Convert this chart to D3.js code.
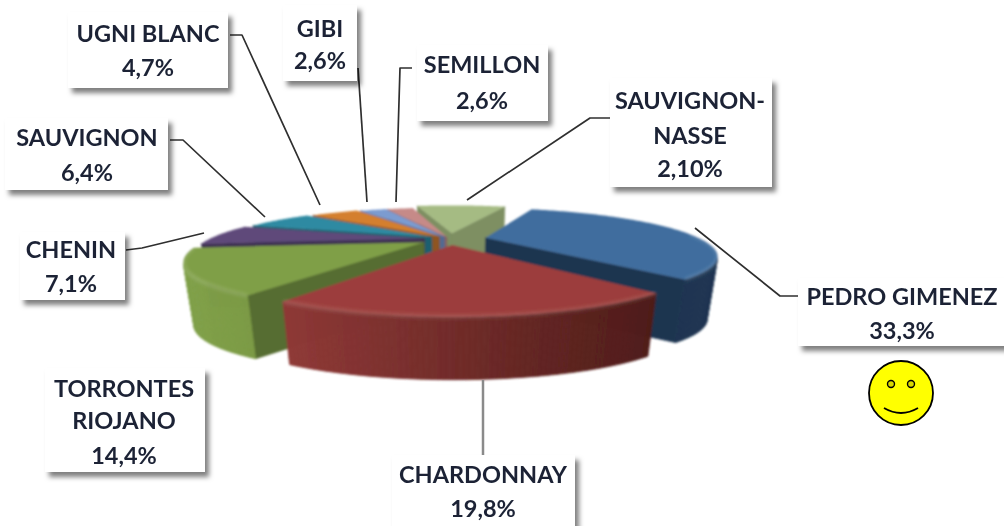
<!DOCTYPE html>
<html><head><meta charset="utf-8">
<script src="https://cdn.jsdelivr.net/npm/d3@7"></script>
<style>html,body{margin:0;padding:0;background:#fff;overflow:hidden}svg{display:block}</style>
</head><body><svg id="c" width="1004" height="526"></svg>
<script>
// ---- data ----
const categories = ["PEDRO GIMENEZ","CHARDONNAY","TORRONTES RIOJANO","CHENIN","SAUVIGNON","UGNI BLANC","GIBI","SEMILLON","SAUVIGNON-NASSE"];
const sliceValues = [33.3,19.8,14.4,7.1,6.4,4.7,2.6,2.6,9.1];
const valueLabels = ["33,3%","19,8%","14,4%","7,1%","6,4%","4,7%","2,6%","2,6%","2,10%"];
// ---- styles ----
const topColors  = ["#3f6d9e","#9c3e3c","#7f9f47","#5e4a7a","#2e8aa2","#d47f2f","#7c9bd0","#c68a88","#a5bb83"];
const wallColors = ["#1c3450","#5a2220","#566d31","#3f3152","#1f5f70","#8f5520","#526a92","#8a5f5e","#7e8f62"];
const rimLeft    = ["#1c3450","#8e3836","#7f9f47","#4a3a60","#25707f","#b06a28","#6680ad","#a87472","#8ea070"];
const rimRight   = ["#1c3450","#4e1c19","#6f8c3c","#3f3152","#1f5f70","#8f5520","#526a92","#8a5f5e","#7e8f62"];
const explode    = [.17,.14,.14,.12,.1,.08,.06,.05,.15];
const drawOrder  = [8,7,6,5,4,0,3,2,1];
// ---- projection ----
const cx=450, cy=239, Rx=215, Ry=41, persp=.35, H=63, taper=.96, startDeg=20;
function project(X,Y,z){
  const s=1/(1-persp*Y);
  const x=cx+Rx*X*s*(z?taper:1);
  const y=cy+Ry*Y*s+(z?H:0);
  return [x,y];
}
const pie=d3.pie().sort(null).value(d=>d)
  .startAngle(startDeg*Math.PI/180).endAngle((startDeg+360)*Math.PI/180);
const arcs=pie(sliceValues);
const svg=d3.select("#c");
const defs=svg.append("defs");
const soft=defs.append("filter").attr("id","soft").attr("x","-5%").attr("y","-5%").attr("width","110%").attr("height","110%");
soft.append("feGaussianBlur").attr("stdDeviation",.9);
const band=defs.append("filter").attr("id","band").attr("x","-5%").attr("y","-20%").attr("width","110%").attr("height","140%");
band.append("feGaussianBlur").attr("stdDeviation",1.6);
const ts=defs.append("filter").attr("id","ts");
ts.append("feGaussianBlur").attr("stdDeviation",.45);
const sh=defs.append("filter").attr("id","sh").attr("x","-15%").attr("y","-15%").attr("width","130%").attr("height","130%");
sh.append("feDropShadow").attr("dx",4).attr("dy",5).attr("stdDeviation",2.8).attr("flood-color","#000").attr("flood-opacity",.5);

const line=d3.line();
// ---- label layout ----
const layout=[
 {lines:["PEDRO GIMENEZ","33,3%"],box:[798,278,230,68],tx:902,ty:[296,330],lead:[[798,296],[780,296]],end:[695,228]},
 {lines:["CHARDONNAY","19,8%"],box:[392,455,183,80],tx:483,ty:[474,508],lead:[[483,455]],end:[483,380],col:"#8a8a8a",w:2.5},
 {lines:["TORRONTES","RIOJANO","14,4%"],box:[45,368,160,104],tx:124,ty:[388,420,455]},
 {lines:["CHENIN","7,1%"],box:[20,232,105,68],tx:71,ty:[249,283],lead:[[126,250],[142,248]],end:[204,233]},
 {lines:["SAUVIGNON","6,4%"],box:[5,118,163,72],tx:87,ty:[137,172],lead:[[170,140],[183,140]],end:[265,217]},
 {lines:["UGNI BLANC","4,7%"],box:[68,12,160,76],tx:148,ty:[33,67],lead:[[230,35],[242,35]],end:[320,205]},
 {lines:["GIBI","2,6%"],box:[283,5,74,76],tx:320,ty:[28,60],lead:[[358,68]],end:[367,202]},
 {lines:["SEMILLON","2,6%"],box:[417,45,131,76],tx:482,ty:[64,100],lead:[[412,68],[400,68]],end:[396,202]},
 {lines:["SAUVIGNON-","NASSE","2,10%"],box:[610,78,162,109],tx:690,ty:[100,135,168],lead:[[610,118],[590,118]],end:[467,200]}
];
// ---- pie ----
const gPie=svg.append("g").attr("filter","url(#soft)");
drawOrder.forEach(i=>{
  const a=arcs[i], mid=(a.startAngle+a.endAngle)/2;
  const ex=explode[i]*Math.sin(mid), ey=-explode[i]*Math.cos(mid);
  const n=Math.max(8,Math.ceil((a.endAngle-a.startAngle)*60));
  const ang=d3.range(n+1).map(j=>a.startAngle+(a.endAngle-a.startAngle)*j/n);
  const world=[[ex,ey],...ang.map(t=>[ex+Math.sin(t),ey-Math.cos(t)])];
  const topPts=world.map(w=>project(w[0],w[1],0));
  const botPts=world.map(w=>project(w[0],w[1],1));
  const g=gPie.append("g");
  const xs=topPts.map(p=>p[0]);
  const rimColor=d3.scaleLinear().domain(d3.extent(xs)).range([rimLeft[i],rimRight[i]]).interpolate(d3.interpolateRgb);
  const N=world.length;
  for(let j=0;j<N;j++){
    const k=(j+1)%N;
    const quad=[topPts[j],topPts[k],botPts[k],botPts[j]];
    if(d3.polygonArea(quad)<=0) continue;
    const isWall=(j===0||k===0);
    const col=isWall?wallColors[i]:rimColor((topPts[j][0]+topPts[k][0])/2);
    g.append("path").attr("d",line(quad)+"Z").attr("fill",col).attr("stroke",col).attr("stroke-width",.8);
  }
  g.append("path").attr("d",line(topPts)+"Z").attr("fill",topColors[i]);
  // soft bevel on the top edge of the rim
  const rimTop=topPts.slice(1);
  const visible=rimTop.filter((p,j)=>Math.cos(ang[j])<.1);
  if(visible.length>2&&i<3){
    g.append("path").attr("d",line(visible)).attr("fill","none").attr("stroke","#fff").attr("stroke-opacity",.13).attr("stroke-width",4).attr("filter","url(#band)");
  }
});
// ---- leaders over the pie ----
const gLead=svg.append("g");
layout.filter(l=>l.lead).forEach(l=>{
  gLead.append("path").attr("d",line([...l.lead,l.end])).attr("fill","none")
   .attr("stroke",l.col||"#2f2f2f").attr("stroke-width",l.w||1.7).attr("stroke-linejoin","round");
});
// ---- label boxes & text ----
const gLab=svg.append("g");
layout.forEach(l=>{
  gLab.append("rect").attr("x",l.box[0]).attr("y",l.box[1]).attr("width",l.box[2]).attr("height",l.box[3]).attr("fill","#fff").attr("filter","url(#sh)");
});
layout.forEach(l=>{
  l.lines.forEach((t,j)=>{
    gLab.append("text").attr("x",l.tx).attr("y",l.ty[j]).attr("text-anchor","middle").attr("dominant-baseline","central")
     .attr("font-family","Lato, 'Open Sans', sans-serif").attr("font-weight",700).attr("font-size",23.5)
     .attr("fill","#1c2436").attr("filter","url(#ts)").text(t);
  });
});
// ---- smiley ----
const face=svg.append("g").attr("transform","translate(901,393)");
face.append("circle").attr("r",32).attr("fill","#ffff00").attr("stroke","#000").attr("stroke-width",1.8);
[-10,10].forEach(dx=>face.append("circle").attr("cx",dx).attr("cy",-9).attr("r",3.5).attr("fill","#d8d800").attr("stroke","#000").attr("stroke-width",1.4));
face.append("path").attr("d","M-17,15 Q0,25 17,15").attr("fill","none").attr("stroke","#000").attr("stroke-width",1.8);
</script></body></html>
